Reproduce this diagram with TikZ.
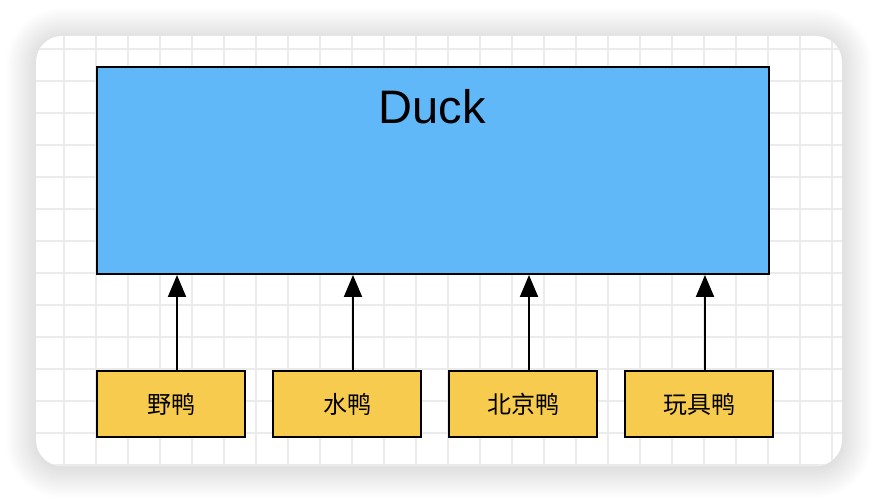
\documentclass[tikz,border=0pt]{standalone}
\usepackage{fontspec}
\setmainfont{Liberation Sans}
\newfontfamily\cjk{Noto Sans CJK SC}
\usetikzlibrary{arrows.meta}
\definecolor{duckblue}{HTML}{60B8F8}
\definecolor{kidyellow}{HTML}{F7CB4D}
\definecolor{gridgray}{HTML}{EBEBEB}

\begin{document}
\begin{tikzpicture}[x=1pt, y=-1pt, line width=2pt,
    kid/.style={draw, fill=kidyellow, minimum width=148pt, minimum height=66pt,
        inner sep=0pt, anchor=north west, font=\cjk\fontsize{24}{28}\selectfont},
    inherit/.style={-{Triangle[width=18pt, length=22pt]}}]
\useasboundingbox[fill=white] (0,0) rectangle (878,502);

% card shadow
\foreach \i in {1,...,30} {
    \fill[black, opacity=0.0055, rounded corners=26pt+\i pt]
        (36-\i,36-\i+2) rectangle (842+\i,466+\i+2);
}
\fill[white, rounded corners=26pt] (36,36) rectangle (842,466);

% grid
\begin{scope}
\clip[rounded corners=26pt] (36,36) rectangle (842,466);
\foreach \x in {64,96,...,832} {
    \draw[gridgray, line width=1.5pt] (\x,36) -- (\x,466);
}
\foreach \y in {49,81,...,465} {
    \draw[gridgray, line width=1.5pt] (36,\y) -- (842,\y);
}
\end{scope}

% parent class
\node[draw, fill=duckblue, minimum width=672pt, minimum height=207pt,
    anchor=north west] (duck) at (96,66) {};
\node[font=\fontsize{47}{56}\selectfont] (ducktitle) at (432,107) {Duck};

% subclasses
\node[kid] (ye) at (96,370) {野鸭};
\node[kid] (shui) at (272,370) {水鸭};
\node[kid] (beijing) at (448,370) {北京鸭};
\node[kid] (wanju) at (624,370) {玩具鸭};

\foreach \name in {ye,shui,beijing,wanju} {
    \draw[inherit] ([xshift=6pt]\name.north) -- ([xshift=6pt]\name.north |- duck.south);
}
\end{tikzpicture}
\end{document}
